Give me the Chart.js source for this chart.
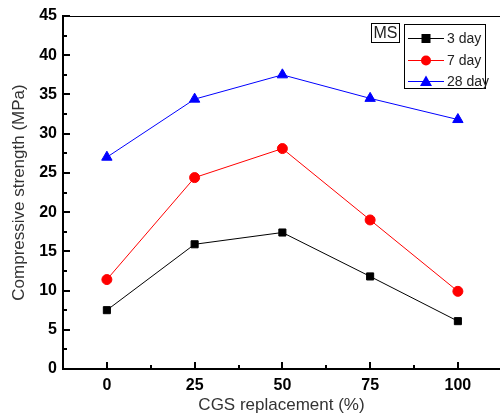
<!DOCTYPE html>
<html>
<head>
<meta charset="utf-8">
<script src="https://cdn.jsdelivr.net/npm/chart.js@4.4.1/dist/chart.umd.min.js"></script>
<style>
  html, body { margin: 0; padding: 0; background: #fff; }
  #wrap { width: 500px; height: 416px; }
</style>
</head>
<body>
<div id="wrap"><canvas id="chart"></canvas></div>
<script>
// data
const replacement = [0, 25, 50, 75, 100];
const day3 = [7.5, 15.9, 17.4, 11.8, 6.1];
const day7 = [11.4, 24.4, 28.1, 19.0, 9.9];
const day28 = [27.0, 34.4, 37.5, 34.5, 31.8];
const yTicks = [0, 5, 10, 15, 20, 25, 30, 35, 40, 45];

const pts = arr => arr.map((v, i) => ({ x: replacement[i], y: v }));

// inward ticks, top frame line, legend + MS label
const framePlugin = {
    id: 'frame',
    afterDraw(chart) {
        const ctx = chart.ctx;
        const a = chart.chartArea;
        const xs = chart.scales.x, ys = chart.scales.y;
        ctx.save();
        ctx.strokeStyle = '#000';
        ctx.lineWidth = 1;
        ctx.beginPath();
        ctx.moveTo(a.left, a.top + 0.5);
        ctx.lineTo(a.right, a.top + 0.5);
        ctx.stroke();

        ctx.lineWidth = 2;
        for (let v = 0; v <= 45; v += 2.5) {
            const y = Math.round(ys.getPixelForValue(v));
            const len = v % 5 === 0 ? 7 : 4;
            ctx.beginPath();
            ctx.moveTo(a.left, y);
            ctx.lineTo(a.left + len, y);
            ctx.stroke();
        }
        for (let v = -12.5; v <= 112.5; v += 12.5) {
            const x = Math.round(xs.getPixelForValue(v));
            const len = v % 25 === 0 ? 7 : 4;
            ctx.beginPath();
            ctx.moveTo(x, a.bottom);
            ctx.lineTo(x, a.bottom - len);
            ctx.stroke();
        }

        // MS label
        ctx.lineWidth = 1;
        ctx.strokeRect(371.5, 23.5, 28, 19);
        ctx.fillStyle = '#222';
        ctx.font = '16px "Liberation Sans", Arial, sans-serif';
        ctx.textAlign = 'center';
        ctx.textBaseline = 'middle';
        ctx.fillText('MS', 385.5, 33.5);

        // legend
        ctx.strokeRect(404.5, 24.5, 81, 64);
        ctx.textAlign = 'left';
        ctx.font = '14px "Liberation Sans", Arial, sans-serif';
        const rows = [38, 60, 81];
        chart.data.datasets.forEach((ds, i) => {
            const y = rows[i];
            ctx.strokeStyle = ds.borderColor;
            ctx.lineWidth = 1;
            ctx.beginPath();
            ctx.moveTo(408, y + 0.5);
            ctx.lineTo(444, y + 0.5);
            ctx.stroke();
            ctx.fillStyle = ds.pointBackgroundColor;
            const cx = 426;
            if (ds.pointStyle === 'rect') {
                ctx.fillRect(cx - 4.5, y - 4, 9, 9);
            } else if (ds.pointStyle === 'circle') {
                ctx.beginPath();
                ctx.arc(cx, y + 0.5, 5, 0, Math.PI * 2);
                ctx.fill();
            } else {
                ctx.beginPath();
                ctx.moveTo(cx, y - 5.5);
                ctx.lineTo(cx + 6, y + 5);
                ctx.lineTo(cx - 6, y + 5);
                ctx.closePath();
                ctx.fill();
            }
            ctx.fillStyle = '#222';
            ctx.fillText(ds.label, 447, y + 1);
        });
        ctx.restore();
    }
};

new Chart(document.getElementById('chart'), {
    type: 'line',
    data: {
        datasets: [{
            label: '3 day',
            data: pts(day3),
            borderColor: '#000',
            pointBackgroundColor: '#000',
            pointStyle: 'rect',
            pointRadius: 5,
            borderWidth: 1
        }, {
            label: '7 day',
            data: pts(day7),
            borderColor: '#ff0000',
            pointBackgroundColor: '#ff0000',
            pointStyle: 'circle',
            pointRadius: 5,
            borderWidth: 1
        }, {
            label: '28 day',
            data: pts(day28),
            borderColor: '#0000ff',
            pointBackgroundColor: '#0000ff',
            pointStyle: 'triangle',
            pointRadius: 6,
            borderWidth: 1
        }]
    },
    options: {
        responsive: true,
        maintainAspectRatio: false,
        animation: false,
        layout: { autoPadding: false, padding: { top: 16, right: 0, left: 0, bottom: 0 } },
        plugins: { legend: { display: false }, tooltip: { enabled: false } },
        elements: { point: { borderWidth: 0 }, line: { tension: 0 } },
        scales: {
            x: {
                type: 'linear',
                min: -12.5,
                max: 112,
                afterBuildTicks: s => { s.ticks = replacement.map(v => ({ value: v })); },
                afterFit: s => { s.height = 47; s.paddingLeft = 0; s.paddingRight = 0; },
                grid: { display: false, drawTicks: false },
                border: { color: '#000', width: 2 },
                ticks: {
                    color: '#000',
                    padding: 7,
                    font: { family: '"Liberation Sans", Arial, sans-serif', size: 16, weight: 'bold' }
                },
                title: {
                    display: true,
                    text: 'CGS replacement (%)',
                    color: '#333',
                    padding: 0,
                    font: { family: '"Liberation Sans", Arial, sans-serif', size: 17 }
                }
            },
            y: {
                min: 0,
                max: 45,
                afterBuildTicks: s => { s.ticks = yTicks.map(v => ({ value: v })); },
                afterFit: s => { s.width = 63; s.paddingTop = 0; s.paddingBottom = 0; },
                grid: { display: false, drawTicks: false },
                border: { color: '#000', width: 2 },
                ticks: {
                    color: '#000',
                    padding: 6,
                    font: { family: '"Liberation Sans", Arial, sans-serif', size: 16, weight: 'bold' }
                },
                title: {
                    display: true,
                    text: 'Compressive strength (MPa)',
                    color: '#333',
                    padding: { top: 9, bottom: 0 },
                    font: { family: '"Liberation Sans", Arial, sans-serif', size: 17 }
                }
            }
        }
    },
    plugins: [framePlugin]
});
</script>
</body>
</html>
